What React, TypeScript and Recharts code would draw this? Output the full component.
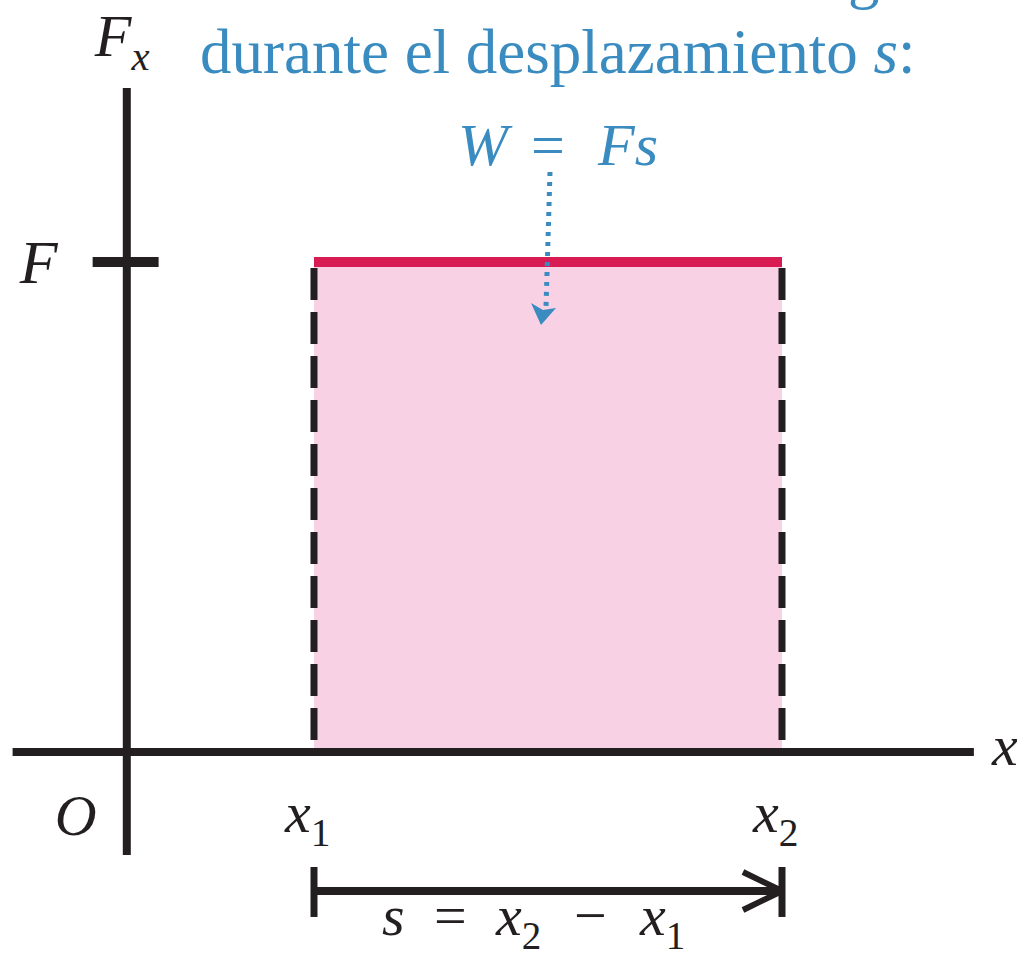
import { ComposedChart, Area, XAxis, YAxis, ReferenceLine, ReferenceDot } from 'recharts'

// positions on the x axis: origin, start and end of the displacement
const positions = [0, 2, 7]
const positionNames = ['O', 'x', 'x']
const positionSubs = ['', '1', '2']
// constant force level
const forceLevel = 1
const forceName = 'F'
const heading = 'durante el desplazamiento '

const [origin, x1, x2] = positions
const workData = [x1, x2].map(x => ({ x, F: forceLevel }))
const mid = (x1 + x2) / 2

const INK = '#231f20'
const PINK = '#f9d1e4'
const RED = '#d81b52'
const BLUE = '#3a8cc0'
const SERIF = '"Liberation Serif", "Times New Roman", "DejaVu Serif", serif'

// chart window (data units) so that the plot fills the whole picture
const X_DOMAIN = [-1.3547, 9.5107]
const Y_DOMAIN = [-0.4184, 1.5347]
const AXIS_Y = [-0.21, 1.355]
const AXIS_X = [-1.22, 9.05]
const ARROW_Y = -0.2837

const txt = (dx: number, dy: number, children: any, extra: any = {}) => (p: any) => (
  <text x={p.cx + dx} y={p.cy + dy} style={{ fontFamily: SERIF }} fontSize={60} fill={INK} {...extra}>{children}</text>
)

const sub = (main: string, s: string, size = 60, italicSub = false) => (
  <>
    <tspan fontStyle="italic">{main}</tspan>
    <tspan fontSize={size * 0.68} dy={size * 0.24} fontStyle={italicSub ? 'italic' : 'normal'}>{s}</tspan>
  </>
)

export default function App() {
  return (
    <div style={{ position: 'absolute', left: 0, top: 0, background: '#fff', fontFamily: SERIF }}>
      <ComposedChart width={1017} height={957} data={workData} margin={{ top: 0, right: 0, bottom: 0, left: 0 }} style={{ fontFamily: SERIF }}>
        <XAxis type="number" dataKey="x" domain={X_DOMAIN} hide allowDataOverflow />
        <YAxis type="number" domain={Y_DOMAIN} hide allowDataOverflow />
        <Area type="linear" dataKey="F" baseValue={0} stroke={RED} strokeWidth={10} fill={PINK} fillOpacity={1} dot={false} activeDot={false} isAnimationActive={false} />
        {[x1, x2].map(x => (
          <ReferenceLine key={x} segment={[{ x, y: forceLevel }, { x, y: 0 }]} stroke={INK} strokeWidth={7} strokeDasharray="0 6 32 6" />
        ))}
        <ReferenceLine segment={[{ x: AXIS_X[0], y: 0 }, { x: AXIS_X[1], y: 0 }]} stroke={INK} strokeWidth={8} />
        <ReferenceLine segment={[{ x: origin, y: AXIS_Y[0] }, { x: origin, y: AXIS_Y[1] }]} stroke={INK} strokeWidth={8} />
        <ReferenceLine segment={[{ x: -0.365, y: forceLevel }, { x: 0.34, y: forceLevel }]} stroke={INK} strokeWidth={10} />
        {/* displacement arrow */}
        <ReferenceLine segment={[{ x: x1, y: ARROW_Y }, { x: x2, y: ARROW_Y }]} stroke={INK} strokeWidth={8} />
        {[x1, x2].map(x => (
          <ReferenceLine key={'b' + x} segment={[{ x, y: -0.2347 }, { x, y: -0.3367 }]} stroke={INK} strokeWidth={7} />
        ))}
        <ReferenceLine segment={[{ x: x2 - 0.417, y: -0.2449 }, { x: x2, y: ARROW_Y }]} stroke={INK} strokeWidth={6} />
        <ReferenceLine segment={[{ x: x2 - 0.417, y: -0.3224 }, { x: x2, y: ARROW_Y }]} stroke={INK} strokeWidth={6} />

        {/* labels */}
        <ReferenceDot x={origin} y={forceLevel} r={0} shape={txt(-107, 21, forceName, { fontStyle: 'italic', fontSize: 62 })} />
        <ReferenceDot x={origin} y={AXIS_Y[1]} r={0} shape={txt(-32, -32, sub(forceName, 'x', 60, true), { fontSize: 60 })} />
        <ReferenceDot x={origin} y={0} r={0} shape={txt(-72, 83, positionNames[0], { fontStyle: 'italic', fontSize: 58 })} />
        {[1, 2].map(i => (
          <ReferenceDot key={'l' + i} x={positions[i]} y={0} r={0} shape={txt(-29, 80, sub(positionNames[i], positionSubs[i], 58), { fontSize: 58 })} />
        ))}
        <ReferenceDot x={AXIS_X[1]} y={0} r={0} shape={txt(18, 13, 'x', { fontStyle: 'italic', fontSize: 58 })} />
        <ReferenceDot x={mid} y={ARROW_Y} r={0} shape={(p: any) => (
          <text y={p.cy + 44} style={{ fontFamily: SERIF }} fontSize={58} fill={INK}>
            <tspan x={p.cx - 166} fontStyle="italic">s</tspan>
            <tspan x={p.cx - 114}>=</tspan>
            <tspan x={p.cx - 52} fontStyle="italic">x</tspan>
            <tspan fontSize={39} dy={14}>2</tspan>
            <tspan x={p.cx + 26} dy={-14}>−</tspan>
            <tspan x={p.cx + 92} fontStyle="italic">x</tspan>
            <tspan fontSize={39} dy={14}>1</tspan>
          </text>
        )} />
        <ReferenceDot x={mid} y={forceLevel} r={0} shape={(p: any) => (
          <g style={{ fontFamily: SERIF }}>
            <text x={p.cx + 300} y={p.cy - 266} fontSize={63} fill={BLUE}>g</text>
            <text x={p.cx - 348} y={p.cy - 189} fontSize={63} fill={BLUE}>
              {heading}<tspan fontStyle="italic">s</tspan>:
            </text>
            <text y={p.cy - 97} fontSize={60} fill={BLUE}>
              <tspan x={p.cx - 90} fontStyle="italic">W</tspan>
              <tspan x={p.cx - 17}>=</tspan>
              <tspan x={p.cx + 50} fontStyle="italic">Fs</tspan>
            </text>
            <line x1={p.cx + 2} y1={p.cy - 90} x2={p.cx - 2} y2={p.cy + 45} stroke={BLUE} strokeWidth={5} strokeDasharray="4 6" />
            <polygon points={`${p.cx - 7},${p.cy + 63} ${p.cx - 17},${p.cy + 41} ${p.cx - 5},${p.cy + 48} ${p.cx + 8},${p.cy + 46}`} fill={BLUE} />
          </g>
        )} />
      </ComposedChart>
    </div>
  )
}
